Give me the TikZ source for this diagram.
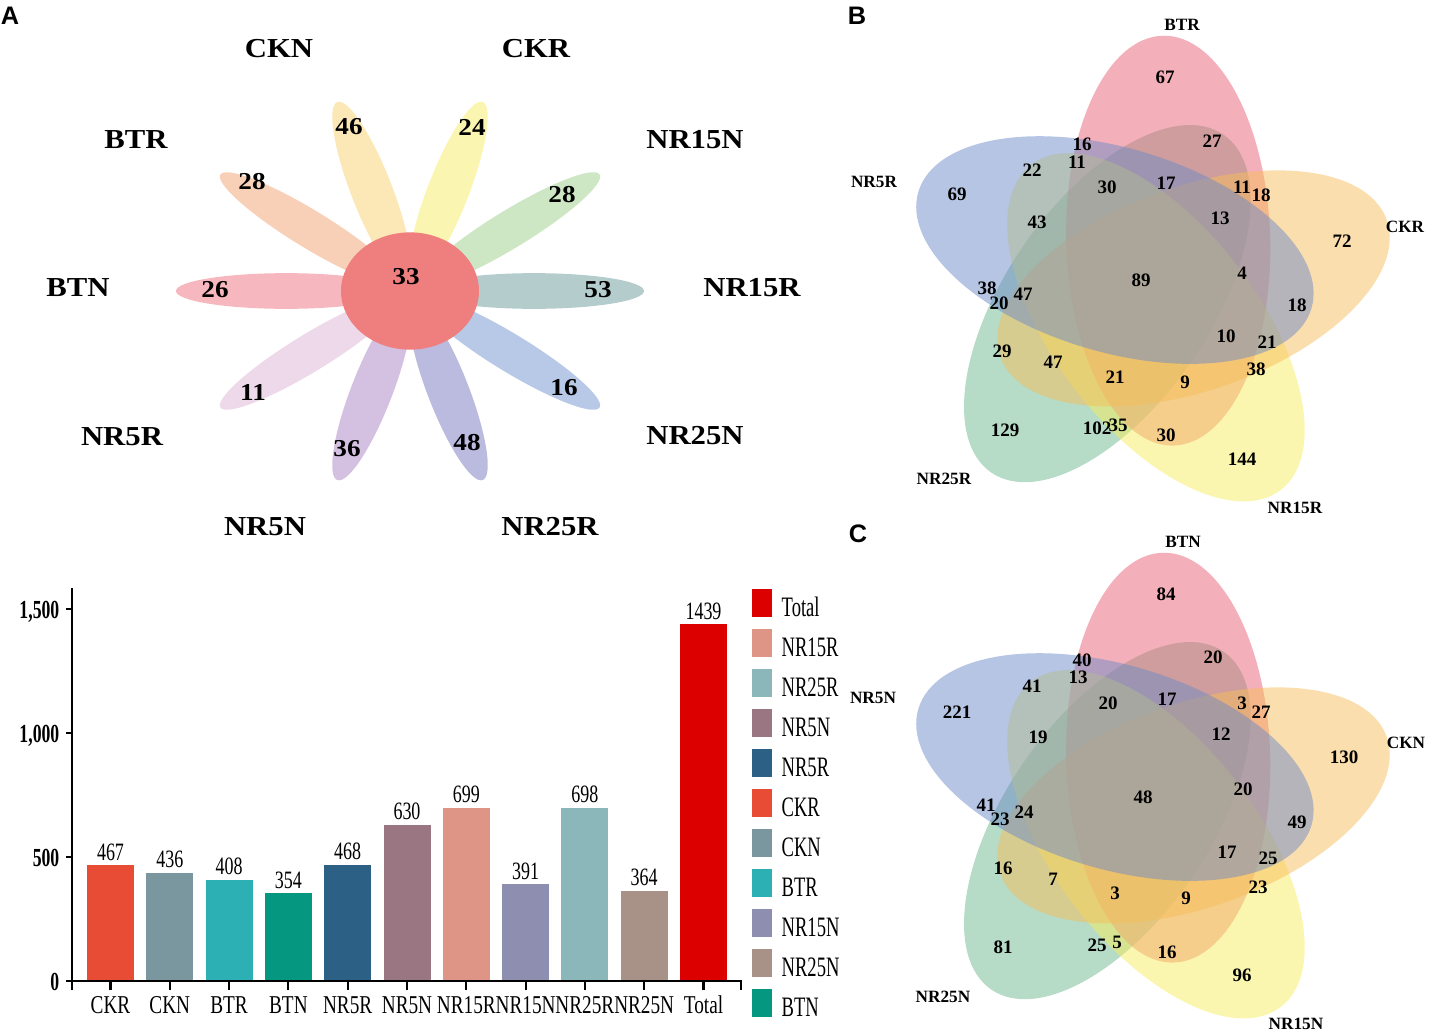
\documentclass[tikz,border=0pt]{standalone}
\usepackage{fontspec}
\setmainfont{Liberation Serif}
\newfontfamily\panelfont{Liberation Sans}
\usepackage{graphicx}

%% flower colours
\definecolor{petNRfifteenR}{HTML}{B5CCCC}
\definecolor{petNRfifteenN}{HTML}{CDE6C3}
\definecolor{petCKR}{HTML}{FAF5B0}
\definecolor{petCKN}{HTML}{FCE8B6}
\definecolor{petBTR}{HTML}{F8D0B8}
\definecolor{petBTN}{HTML}{F7B7BE}
\definecolor{petNRfiveR}{HTML}{EDD9EA}
\definecolor{petNRfiveN}{HTML}{D4C0E0}
\definecolor{petNRtwentyfiveR}{HTML}{BBBADF}
\definecolor{petNRtwentyfiveN}{HTML}{B7C9E7}
\definecolor{flowerCore}{HTML}{EE7F7E}
%% venn colours
\definecolor{vPink}{HTML}{E96175}
\definecolor{vOrange}{HTML}{F7BD5B}
\definecolor{vYellow}{HTML}{F7ED5F}
\definecolor{vGreen}{HTML}{6DB78D}
\definecolor{vBlue}{HTML}{6D8BC7}
%% bar colours
\definecolor{barCKR}{HTML}{E84C35}
\definecolor{barCKN}{HTML}{7A97A0}
\definecolor{barBTR}{HTML}{2CB0B4}
\definecolor{barBTN}{HTML}{05977F}
\definecolor{barNRfiveR}{HTML}{2D6085}
\definecolor{barNRfiveN}{HTML}{9A7682}
\definecolor{barNRfifteenR}{HTML}{DE9585}
\definecolor{barNRfifteenN}{HTML}{8E8FB0}
\definecolor{barNRtwentyfiveR}{HTML}{8BB7BB}
\definecolor{barNRtwentyfiveN}{HTML}{A89186}
\definecolor{barTotal}{HTML}{DD0000}

\newcommand{\squeeze}[2]{\scalebox{#1}[1]{#2}}

\begin{document}
\begin{tikzpicture}
[x=0.01cm, y=-0.01cm,
  panelLetter/.style={font=\panelfont\bfseries\fontsize{7.2}{8}\selectfont, inner sep=0pt},
  flowerName/.style={font=\bfseries\fontsize{7.8}{9}\selectfont, inner sep=0pt},
  petalCount/.style={font=\bfseries\fontsize{6.9}{8}\selectfont, inner sep=0pt},
  vennCount/.style={font=\bfseries\fontsize{5.4}{6}\selectfont, inner sep=0pt},
  vennName/.style={font=\bfseries\fontsize{4.9}{6}\selectfont, inner sep=0pt},
  barValue/.style={font=\fontsize{7.1}{8}\selectfont, inner sep=0pt, anchor=south},
  barName/.style={font=\fontsize{7.3}{8}\selectfont, inner sep=0pt, anchor=base},
  tickValue/.style={font=\bfseries\fontsize{7.4}{8}\selectfont, inner sep=0pt, anchor=base east},
  legendName/.style={font=\fontsize{8}{9}\selectfont, inner sep=0pt, anchor=base west},
  axisLine/.style={line width=0.6pt, black},
  vennSet/.style={fill opacity=0.5}]
\useasboundingbox (0,0) rectangle (1432,1036);

%% panel letters
\node[panelLetter] (letterA) at (10,16) {A};
\node[panelLetter] (letterB) at (857,16) {B};
\node[panelLetter] (letterC) at (858,534) {C};

%% flower: petals and core
\begin{scope}[shift={(410,291)}, y=0.01cm, yscale=0.85]
\foreach \ang/\col in {0/petNRfifteenR, 36/petNRfifteenN, 72/petCKR,
  108/petCKN, 144/petBTR, 180/petBTN, 216/petNRfiveR, 252/petNRfiveN,
  288/petNRtwentyfiveR, 324/petNRtwentyfiveN}
{
  \fill[\col, rotate=\ang] (124,0) ellipse (110 and 21);
}
\fill[flowerCore] (0,0) circle (69);
\end{scope}

%% flower counts
\foreach \nm/\x/\y/\t in {pcCKN/349/127/46, pcCKR/472/127/24,
  pcNRfifteenN/562/195/28, pcNRfifteenR/598/290/53, pcNRtwentyfiveN/564/388/16,
  pcNRtwentyfiveR/467/443/48, pcNRfiveN/347/449/36, pcNRfiveR/253/392/11,
  pcBTN/215/290/26, pcBTR/252/182/28, pcCore/406/277/33}
{
  \node[petalCount] (\nm) at (\x,\y) {\squeeze{1.12}{\t}};
}

%% flower names
\foreach \nm/\x/\y/\t in {fnCKN/279/49/CKN, fnCKR/536/49/CKR,
  fnBTR/136/140/BTR, fnNRfifteenN/695/140/NR15N, fnBTN/78/288/BTN,
  fnNRfifteenR/752/288/NR15R, fnNRfiveR/122/437/NR5R,
  fnNRtwentyfiveN/695/436/NR25N, fnNRfiveN/265/527/NR5N,
  fnNRtwentyfiveR/550/527/NR25R}
{
  \node[flowerName] (\nm) at (\x,\y) {\squeeze{1.12}{\t}};
}

%% bar chart
\foreach \i/\name/\val/\col in {0/CKR/467/barCKR, 1/CKN/436/barCKN,
  2/BTR/408/barBTR, 3/BTN/354/barBTN, 4/NR5R/468/barNRfiveR,
  5/NR5N/630/barNRfiveN, 6/NR15R/699/barNRfifteenR,
  7/NR15N/391/barNRfifteenN, 8/NR25R/698/barNRtwentyfiveR,
  9/NR25N/364/barNRtwentyfiveN, 10/Total/1439/barTotal}
{
  \pgfmathsetmacro{\cx}{110.5+59.3*\i}
  \pgfmathsetmacro{\barTop}{981-0.248*\val}
  \fill[\col] (\cx-23.5,\barTop) rectangle (\cx+23.5,981);
  \node[barValue] (value\i) at (\cx,\barTop-4) {\squeeze{0.72}{\val}};
  \node[barName] (name\i) at (\cx,1013) {\squeeze{0.75}{\name}};
  \draw[axisLine] (\cx,981) -- (\cx,990);
}
\draw[axisLine] (72,588) -- (72,990);
\draw[axisLine] (72,981) -- (741,981) -- (741,990);
\foreach \v/\lab in {0/0, 500/500, 1000/{1,000}, 1500/{1,500}}
{
  \draw[axisLine] (66,981-0.248*\v) -- (72,981-0.248*\v);
  \node[tickValue] (tick\v) at (60,990.5-0.248*\v) {\squeeze{0.68}{\lab}};
}

%% legend
\foreach \j/\name/\col in {0/Total/barTotal, 1/NR15R/barNRfifteenR,
  2/NR25R/barNRtwentyfiveR, 3/NR5N/barNRfiveN, 4/NR5R/barNRfiveR,
  5/CKR/barCKR, 6/CKN/barCKN, 7/BTR/barBTR, 8/NR15N/barNRfifteenN,
  9/NR25N/barNRtwentyfiveN, 10/BTN/barBTN}
{
  \fill[\col] (752,589+40*\j) rectangle (772,617+40*\j);
  \node[legendName] (legend\j) at (781,616+40*\j) {\squeeze{0.66}{\name}};
}

%% venn B
\begin{scope}[shift={(1148,282)}, y=0.01cm]
\foreach \k/\col in {3/vGreen, 0/vPink, 2/vYellow, 1/vOrange, 4/vBlue}
{
  \fill[\col, vennSet, rotate=-72*\k, shift={(64:46)}, rotate=91.5]
    (0,0) ellipse (205 and 102);
}
\end{scope}
\foreach \x/\y/\t [count=\n] in {1165/77/67, 1212/141/27, 1082/144/16,
  1077/162/11, 1032/170/22, 1107/187/30, 1166/183/17, 1242/187/11,
  1261/195/18, 957/194/69, 1220/218/13, 1037/222/43, 1342/241/72,
  1242/273/4, 1141/280/89, 987/288/38, 999/303/20, 1023/294/47,
  1297/305/18, 1226/336/10, 1267/342/21, 1002/351/29, 1053/362/47,
  1115/377/21, 1256/369/38, 1185/382/9, 1005/430/129, 1097/428/102,
  1118/425/35, 1166/435/30, 1242/459/144}
{
  \node[vennCount] (b\n) at (\x,\y) {\t};
}
\foreach \nm/\x/\y/\t in {bBTR/1182/25/BTR, bCKR/1405/227/CKR,
  bNRfifteenR/1295/508/NR15R, bNRtwentyfiveR/944/479/NR25R,
  bNRfiveR/874/182/NR5R}
{
  \node[vennName] (\nm) at (\x,\y) {\t};
}

%% venn C
\begin{scope}[shift={(1148,799)}, y=0.01cm]
\foreach \k/\col in {3/vGreen, 0/vPink, 2/vYellow, 1/vOrange, 4/vBlue}
{
  \fill[\col, vennSet, rotate=-72*\k, shift={(64:46)}, rotate=91.5]
    (0,0) ellipse (205 and 102);
}
\end{scope}
\foreach \x/\y/\t [count=\n] in {1166/594/84, 1213/657/20, 1082/660/40,
  1078/677/13, 1032/686/41, 1108/703/20, 1167/699/17, 1242/703/3,
  1261/712/27, 957/712/221, 1221/734/12, 1038/737/19, 1344/757/130,
  1243/789/20, 1143/797/48, 986/805/41, 1000/819/23, 1024/812/24,
  1297/822/49, 1227/852/17, 1268/858/25, 1003/868/16, 1053/879/7,
  1115/893/3, 1258/887/23, 1186/898/9, 1003/947/81, 1097/945/25,
  1117/942/5, 1167/952/16, 1242/975/96}
{
  \node[vennCount] (c\n) at (\x,\y) {\t};
}
\foreach \nm/\x/\y/\t in {cBTN/1183/542/BTN, cCKN/1406/743/CKN,
  cNRfifteenN/1296/1024/NR15N, cNRtwentyfiveN/943/997/NR25N,
  cNRfiveN/873/698/NR5N}
{
  \node[vennName] (\nm) at (\x,\y) {\t};
}
\end{tikzpicture}
\end{document}
